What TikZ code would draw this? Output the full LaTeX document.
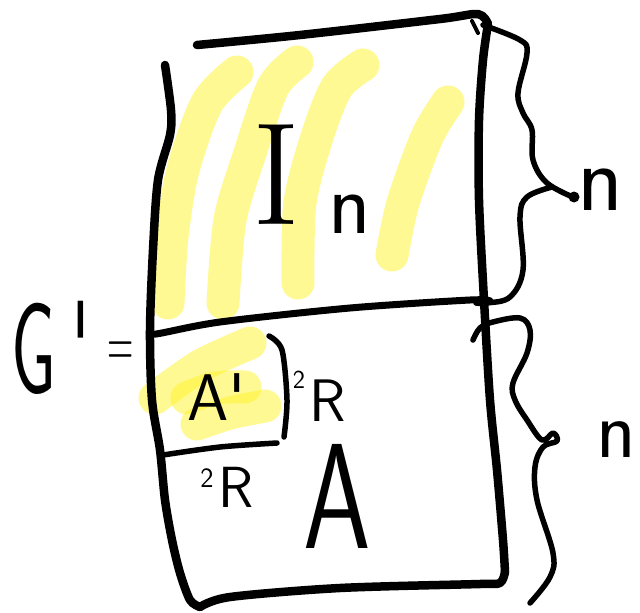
\documentclass[tikz,border=0pt]{standalone}
\usepackage{fontspec}
\newcommand\myfs[1]{\fontsize{#1}{#1}\selectfont}
\definecolor{hl}{RGB}{255,245,40}
\tikzset{
  boxline/.style={line width=8.5pt, line cap=round, line join=round},
  midline/.style={line width=7pt, line cap=round, line join=round},
  thinline/.style={line width=5.5pt, line cap=round, line join=round},
  braceline/.style={line width=5.5pt, line cap=round, line join=round},
  hlstroke/.style={draw=hl, opacity=0.5, line width=33pt, line cap=round, line join=round},
  txt/.style={inner sep=0pt, outer sep=0pt},
  stxt/.style={txt, font=\sffamily},
}
\begin{document}
\begin{tikzpicture}[x=1pt,y=-1pt]
\useasboundingbox (0,0) rectangle (640,613);
\fill[white] (0,0) rectangle (640,613);

% yellow highlight strokes
\draw[hlstroke] plot[smooth] coordinates {(237,72) (207,103) (183,170) (172,237) (168,303)};
\draw[hlstroke] plot[smooth] coordinates {(297,62) (273,87) (250,153) (230,220) (223,303)};
\draw[hlstroke] plot[smooth] coordinates {(363,65) (337,87) (317,137) (300,203) (298,283)};
\draw[hlstroke] plot[smooth] coordinates {(448,102) (427,137) (403,203) (392,255)};
\draw[hlstroke] plot[smooth] coordinates {(155,398) (200,366) (250,343)};
\draw[hlstroke] plot[smooth] coordinates {(187,398) (215,388) (245,387)};
\draw[hlstroke] plot[smooth] coordinates {(197,424) (230,413) (265,406)};

% outer box
\draw[boxline] plot[smooth] coordinates {(165,65) (171,110) (170,135) (158,180) (153,250) (150,330) (152,400) (160,450) (165,500) (172,540) (180,573) (190,600) (200,607)};
\draw[boxline] plot[smooth] coordinates {(200,607) (230,597) (340,588) (480,584) (500,583) (505,572)};
\draw[boxline] plot[smooth] coordinates {(505,572) (503,540) (497,470) (490,400) (484,300) (479,200) (479,120) (483,60) (488,24)};
\draw[boxline] plot[smooth] coordinates {(197,45) (300,35) (440,19) (478,14) (488,24)};
\draw[line width=4pt, line cap=round] (472,21) -- (478,33);

% middle line
\draw[midline] plot[smooth] coordinates {(150,331) (156,334) (220,322) (350,308) (470,300) (490,301)};

% A' sub-box
\draw[thinline] plot[smooth] coordinates {(163,455) (220,447) (277,443)};
\draw[thinline] plot[smooth] coordinates {(269,336) (282,350) (287,400) (284,437)};

% braces
\draw[braceline] plot[smooth, tension=0.6] coordinates {(483,25) (520,40) (527,53) (518,93) (523,113) (532,130) (533,160) (547,183) (575,198)};
\fill (574,197) circle (5.5pt);
\draw[braceline] plot[smooth, tension=0.6] coordinates {(552,187) (527,197) (520,217) (523,270) (510,297) (487,303) (476,303)};
\draw[braceline] plot[smooth, tension=0.6] coordinates {(473,340) (480,328) (493,322) (520,318) (530,330) (527,353) (513,383) (515,400) (527,420) (542,440) (553,433) (557,441) (543,447) (535,467) (537,500) (553,553) (550,577) (530,603)};

% texts
\node[txt, anchor=base] (I) at (276,224) {\myfs{146}I};
\node[stxt, anchor=base] (nI) at (350,233) {\myfs{88}n};
\node[stxt, anchor=base] (nTop) at (600,210) {\myfs{95}n};
\node[stxt, anchor=base] (nBot) at (616,457) {\myfs{82}n};
\node[stxt, anchor=base west] (Ap) at (187,420) {\myfs{66}A\textquotesingle};
\node[stxt, anchor=base] (twoA) at (299,388) {\myfs{26}2};
\node[stxt, anchor=base west] (RA) at (309,421) {\myfs{60}R};
\node[stxt, anchor=base] (twoB) at (207,487) {\myfs{28}2};
\node[stxt, anchor=base west] (RB) at (218,507) {\myfs{58}R};
\node[stxt, anchor=base, xscale=0.72] (Abig) at (337,548) {\myfs{150}A};
\node[stxt, anchor=base west, xscale=0.55] (G) at (12,393) {\myfs{130}G\kern0.2em\textquotesingle};
\node[stxt, yscale=2] (eq) at (121,355) {\myfs{36}=};
\end{tikzpicture}
\end{document}
